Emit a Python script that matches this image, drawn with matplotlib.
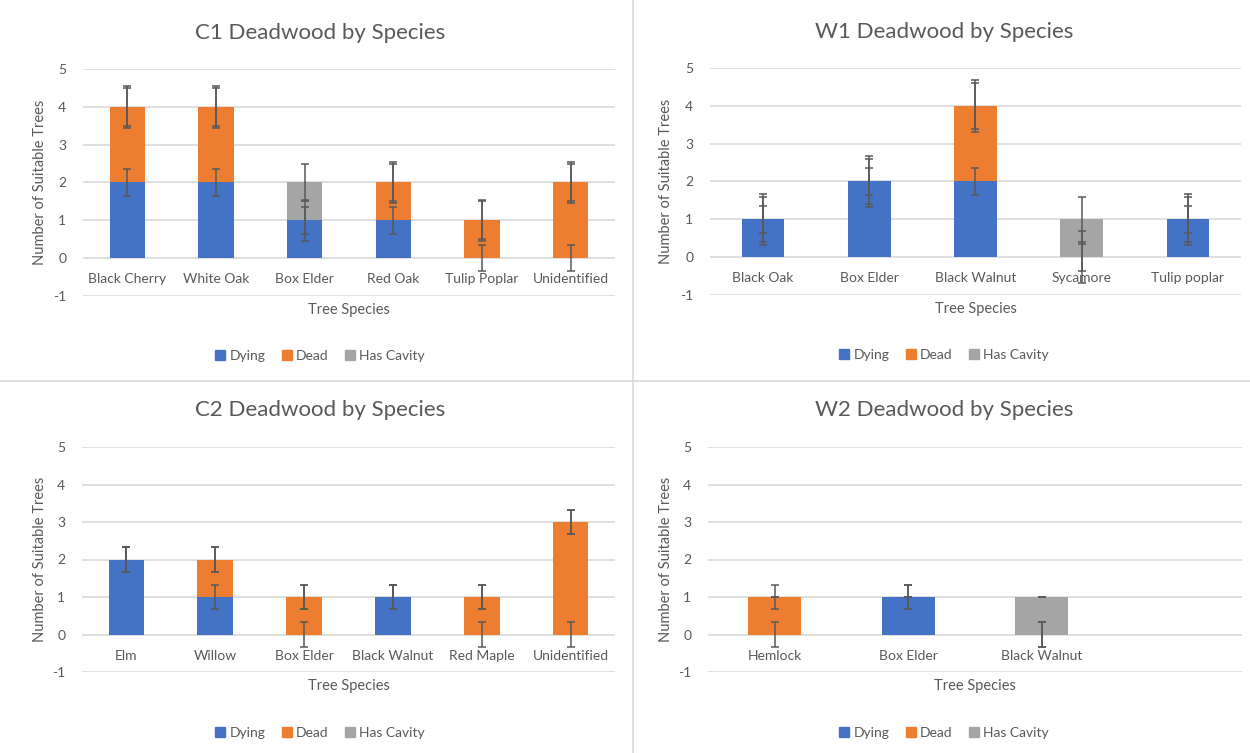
import numpy as np
import matplotlib
matplotlib.use("Agg")
import matplotlib.pyplot as plt
from matplotlib.lines import Line2D
from matplotlib.patches import Patch

plt.rcParams['font.family'] = ['Lato', 'DejaVu Sans']
plt.rcParams['axes.unicode_minus'] = False

# data
series_names = ["Dying", "Dead", "Has Cavity"]
series_colors = ["#4472C4", "#ED7D31", "#A5A5A5"]

c1_species = ["Black Cherry", "White Oak", "Box Elder", "Red Oak", "Tulip Poplar", "Unidentified"]
c1_dying = [2, 2, 1, 1, 0, 0]
c1_dead = [2, 2, 0, 1, 1, 2]
c1_cavity = [0, 0, 1, 0, 0, 0]
c1_err = [0.35, 0.55, 0.5]

w1_species = ["Black Oak", "Box Elder", "Black Walnut", "Sycamore", "Tulip poplar"]
w1_dying = [1, 2, 2, 0, 1]
w1_dead = [0, 0, 2, 0, 0]
w1_cavity = [0, 0, 0, 1, 0]
w1_err = [0.36, 0.68, 0.6]

c2_species = ["Elm", "Willow", "Box Elder", "Black Walnut", "Red Maple", "Unidentified"]
c2_dying = [2, 1, 0, 1, 0, 0]
c2_dead = [0, 1, 1, 0, 1, 3]
c2_cavity = [0, 0, 0, 0, 0, 0]
c2_err = [0.33, 0.33, 0.33]

w2_species = ["Hemlock", "Box Elder", "Black Walnut"]
w2_dying = [0, 1, 0]
w2_dead = [1, 0, 0]
w2_cavity = [0, 0, 1]
w2_err = [0.33, 0.33, 0.0]

W, H = 1250, 753
fig = plt.figure(figsize=(W / 100, H / 100), dpi=100)
TXT = "#595959"
GRID = "#d9d9d9"


def px_box(left, right, top, bottom):
    return [left / W, 1 - bottom / H, (right - left) / W, (bottom - top) / H]


def panel(box, title, species, stacks, errs, nslots, title_x, title_y, legend_y, xlab_y, ylab_x):
    ax = fig.add_axes(px_box(*box))
    x = np.arange(len(species))
    bottom = np.zeros(len(species))
    tops = []
    for vals, col in zip(stacks, series_colors):
        vals = np.array(vals, dtype=float)
        ax.bar(x, vals, bottom=bottom, width=0.4, color=col, zorder=2)
        bottom = bottom + vals
        tops.append(bottom.copy())
    for top, e in zip(tops, errs):
        ax.errorbar(x, top, yerr=e, fmt='none', ecolor=TXT, elinewidth=1.1,
                    capsize=3, capthick=1.1, zorder=4)
    ax.set_xlim(-0.5, nslots - 0.5)
    ax.set_ylim(-1, 5)
    ax.set_yticks(range(-1, 6))
    ax.yaxis.grid(True, color=GRID, lw=1.2, zorder=0)
    for s in ax.spines.values():
        s.set_visible(False)
    ax.spines['bottom'].set_position(('data', 0))
    ax.set_xticks(x, species)
    ax.tick_params(axis='x', length=0, pad=11, labelsize=10, labelcolor=TXT)
    ax.tick_params(axis='y', length=0, pad=12, labelsize=10, labelcolor=TXT)
    ax.set_axisbelow(True)
    fig.text(title_x / W, 1 - title_y / H, title, ha='center', va='center',
             fontsize=16, color=TXT)
    l, r, t, b = box
    fig.text((l + r) / 2 / W, 1 - xlab_y / H, "Tree Species", ha='center', va='center',
             fontsize=10.5, color=TXT)
    fig.text(ylab_x / W, 1 - (t + b) / 2 / H, "Number of Suitable Trees", ha='center',
             va='center', rotation=90, fontsize=10.5, color=TXT)
    handles = [Patch(color=c, label=n) for n, c in zip(series_names, series_colors)]
    fig.legend(handles=handles, loc='center', bbox_to_anchor=(title_x / W, 1 - legend_y / H),
               ncol=3, frameon=False, fontsize=10, handlelength=0.7, handleheight=0.7,
               handletextpad=0.3, columnspacing=1.2, labelcolor=TXT)
    return ax


panel((83, 615, 69, 296), "C1 Deadwood by Species", c1_species,
      [c1_dying, c1_dead, c1_cavity], c1_err, len(c1_species), 320, 33, 356, 310, 40)
panel((710, 1241, 68, 295), "W1 Deadwood by Species", w1_species,
      [w1_dying, w1_dead, w1_cavity], w1_err, len(w1_species), 944, 32, 355, 309, 666)
panel((82, 615, 447, 672), "C2 Deadwood by Species", c2_species,
      [c2_dying, c2_dead, c2_cavity], c2_err, len(c2_species), 320, 410, 733, 686, 40)
panel((708, 1242, 447, 672), "W2 Deadwood by Species", w2_species,
      [w2_dying, w2_dead, w2_cavity], w2_err, 4, 944, 410, 733, 686, 666)

fig.add_artist(Line2D([633 / W, 633 / W], [0, 1], transform=fig.transFigure, color=GRID, lw=1.2))
fig.add_artist(Line2D([0, 1], [1 - 381 / H, 1 - 381 / H], transform=fig.transFigure, color=GRID, lw=1.2))

fig.savefig("out.png", dpi=100)
